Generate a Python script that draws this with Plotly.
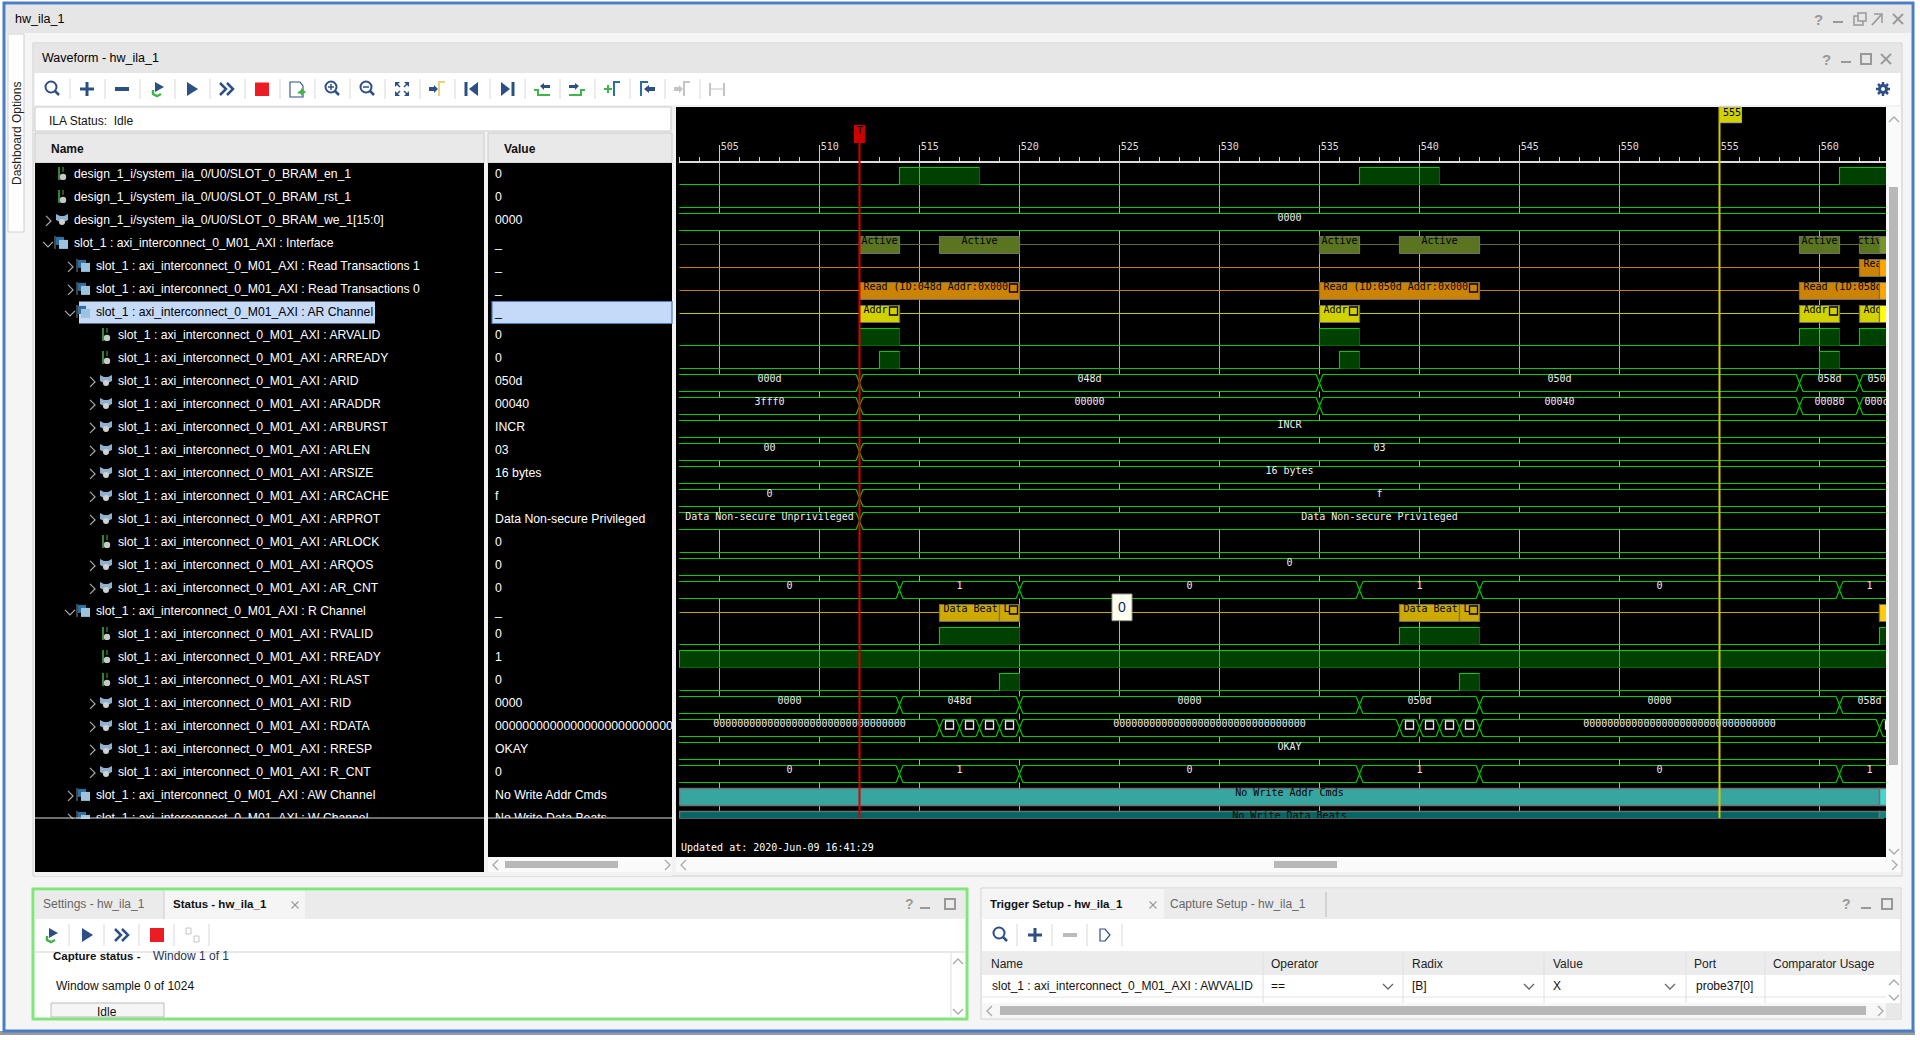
import plotly.graph_objects as go

W = 1920
H = 1040

# amostras visiveis no waveform
sample_start = 503
sample_end = 564
tick_vals = [505, 510, 515, 520, 525, 530, 535, 540, 545, 550, 555, 560]
tick_text = ['505', '510', '515', '520', '525', '530', '535', '540', '545', '550', '555', '560']
trigger_sample = 512
cursor_sample = 555

names = [
    'design_1_i/system_ila_0/U0/SLOT_0_BRAM_en_1',
    'design_1_i/system_ila_0/U0/SLOT_0_BRAM_rst_1',
    'design_1_i/system_ila_0/U0/SLOT_0_BRAM_we_1[15:0]',
    'slot_1 : axi_interconnect_0_M01_AXI : Interface',
    'slot_1 : axi_interconnect_0_M01_AXI : Read Transactions 1',
    'slot_1 : axi_interconnect_0_M01_AXI : Read Transactions 0',
    'slot_1 : axi_interconnect_0_M01_AXI : AR Channel',
    'slot_1 : axi_interconnect_0_M01_AXI : ARVALID',
    'slot_1 : axi_interconnect_0_M01_AXI : ARREADY',
    'slot_1 : axi_interconnect_0_M01_AXI : ARID',
    'slot_1 : axi_interconnect_0_M01_AXI : ARADDR',
    'slot_1 : axi_interconnect_0_M01_AXI : ARBURST',
    'slot_1 : axi_interconnect_0_M01_AXI : ARLEN',
    'slot_1 : axi_interconnect_0_M01_AXI : ARSIZE',
    'slot_1 : axi_interconnect_0_M01_AXI : ARCACHE',
    'slot_1 : axi_interconnect_0_M01_AXI : ARPROT',
    'slot_1 : axi_interconnect_0_M01_AXI : ARLOCK',
    'slot_1 : axi_interconnect_0_M01_AXI : ARQOS',
    'slot_1 : axi_interconnect_0_M01_AXI : AR_CNT',
    'slot_1 : axi_interconnect_0_M01_AXI : R Channel',
    'slot_1 : axi_interconnect_0_M01_AXI : RVALID',
    'slot_1 : axi_interconnect_0_M01_AXI : RREADY',
    'slot_1 : axi_interconnect_0_M01_AXI : RLAST',
    'slot_1 : axi_interconnect_0_M01_AXI : RID',
    'slot_1 : axi_interconnect_0_M01_AXI : RDATA',
    'slot_1 : axi_interconnect_0_M01_AXI : RRESP',
    'slot_1 : axi_interconnect_0_M01_AXI : R_CNT',
    'slot_1 : axi_interconnect_0_M01_AXI : AW Channel',
    'slot_1 : axi_interconnect_0_M01_AXI : W Channel',
]
depths = [0, 0, 0, 0, 1, 1, 1, 2, 2, 2, 2, 2, 2, 2, 2, 2, 2, 2, 2, 1, 2, 2, 2, 2, 2, 2, 2, 1, 1]
kinds = ['bit', 'bit', 'bus', 'group', 'group', 'group', 'group', 'bit', 'bit', 'bus', 'bus', 'bus', 'bus',
         'bus', 'bus', 'bus', 'bit', 'bus', 'bus', 'group', 'bit', 'bit', 'bit', 'bus', 'bus', 'bus', 'bus',
         'group', 'group']
expand = ['', '', 'r', 'd', 'r', 'r', 'd', '', '', 'r', 'r', 'r', 'r', 'r', 'r', 'r', '', 'r', 'r', 'd', '',
          '', '', 'r', 'r', 'r', 'r', 'r', 'r']
values = ['0', '0', '0000', '_', '_', '_', '_', '0', '0', '050d', '00040', 'INCR', '03', '16 bytes', 'f',
          'Data Non-secure Privileged', '0', '0', '0', '_', '0', '1', '0', '0000',
          '0000000000000000000000000000000000000', 'OKAY', '0', 'No Write Addr Cmds', 'No Write Data Beats']

# sinais digitais: linha -> intervalos em nivel alto
en_high = [(514, 518), (537, 541), (561, 566)]
arvalid_high = [(512, 514), (535, 537), (559, 561), (562, 566)]
arready_high = [(513, 514), (536, 537), (560, 561)]
rvalid_high = [(516, 520), (539, 543), (563, 566)]
rready_high = [(503, 566)]
rlast_high = [(519, 520), (542, 543)]
digital_rows = {0: en_high, 1: [], 7: arvalid_high, 8: arready_high, 16: [], 20: rvalid_high,
                21: rready_high, 22: rlast_high}

# barramentos: linha -> (inicio, fim, valor)
we_bus = [(503, 564, '0000')]
arid_bus = [(503, 512, '000d'), (512, 535, '048d'), (535, 559, '050d'), (559, 562, '058d'), (562, 564, '050d')]
araddr_bus = [(503, 512, '3fff0'), (512, 535, '00000'), (535, 559, '00040'), (559, 562, '00080'),
              (562, 564, '000c0')]
arburst_bus = [(503, 564, 'INCR')]
arlen_bus = [(503, 512, '00'), (512, 564, '03')]
arsize_bus = [(503, 564, '16 bytes')]
arcache_bus = [(503, 512, '0'), (512, 564, 'f')]
arprot_bus = [(503, 512, 'Data Non-secure Unprivileged'), (512, 564, 'Data Non-secure Privileged')]
arqos_bus = [(503, 564, '0')]
cnt_bus = [(503, 514, '0'), (514, 520, '1'), (520, 537, '0'), (537, 543, '1'), (543, 561, '0'), (561, 564, '1')]
rid_bus = [(503, 514, '0000'), (514, 520, '048d'), (520, 537, '0000'), (537, 543, '050d'), (543, 561, '0000'),
           (561, 564, '058d')]
zeros = '00000000000000000000000000000000'
rdata_bus = [(503, 516, zeros), (516, 517, '#'), (517, 518, '#'), (518, 519, '#'), (519, 520, '#'),
             (520, 539, zeros), (539, 540, '#'), (540, 541, '#'), (541, 542, '#'), (542, 543, '#'),
             (543, 563, zeros), (563, 564, '#')]
rresp_bus = [(503, 564, 'OKAY')]
bus_rows = {2: we_bus, 9: arid_bus, 10: araddr_bus, 11: arburst_bus, 12: arlen_bus, 13: arsize_bus,
            14: arcache_bus, 15: arprot_bus, 17: arqos_bus, 18: cnt_bus, 23: rid_bus, 24: rdata_bus,
            25: rresp_bus, 26: cnt_bus}

# transacoes: (inicio, fim, texto)
active_blocks = [(512, 514, 'Active'), (516, 520, 'Active'), (535, 537, 'Active'), (539, 543, 'Active'),
                 (559, 561, 'Active'), (562, 563, 'Active')]
read1_blocks = [(562, 563, 'Read')]
read0_blocks = [(512, 520, 'Read (ID:048d Addr:0x000'), (535, 543, 'Read (ID:050d Addr:0x000'),
                (559, 563, 'Read (ID:058d')]
addr_blocks = [(512, 514, 'Addr'), (535, 537, 'Addr'), (559, 561, 'Addr'), (562, 563, 'Addr')]
beat_blocks = [(516, 519, 'Data Beat'), (519, 520, 'L'), (539, 542, 'Data Beat'), (542, 543, 'L'), (563, 564, 'D')]
aw_blocks = [(503, 563, '')]
w_blocks = [(503, 563, '')]
aw_label = 'No Write Addr Cmds'
w_label = 'No Write Data Beats'

MONO = 'DejaVu Sans Mono'
UI = 'Liberation Sans'
GREEN = '#00d000'
HI = 17 / 23
TOP_PX = 163
BOTTOM_PX = 818

shapes = []
annots = []


def X(px):
    return px / W


def Y(py):
    return 1 - py / H


def rect(x0, y0, x1, y1, fill=None, line=None, w=1, layer='below'):
    shapes.append(dict(type='rect', xref='paper', yref='paper', x0=X(x0), y0=Y(y0), x1=X(x1), y1=Y(y1),
                       fillcolor=fill or 'rgba(0,0,0,0)', layer=layer,
                       line=dict(color=line or 'rgba(0,0,0,0)', width=w if line else 0)))


def seg(x0, y0, x1, y1, color, w=1):
    shapes.append(dict(type='line', xref='paper', yref='paper', x0=X(x0), y0=Y(y0), x1=X(x1), y1=Y(y1),
                       layer='below', line=dict(color=color, width=w)))


def poly(pts, fill=None, line=None, w=1, close=True):
    p = 'M ' + ' L '.join(f'{X(a):.5f} {Y(b):.5f}' for a, b in pts) + (' Z' if close else '')
    shapes.append(dict(type='path', xref='paper', yref='paper', path=p, layer='below',
                       fillcolor=fill or 'rgba(0,0,0,0)',
                       line=dict(color=line or 'rgba(0,0,0,0)', width=w if line else 0)))


def circ(cx, cy, r, fill=None, line=None, w=1):
    shapes.append(dict(type='circle', xref='paper', yref='paper', x0=X(cx - r), x1=X(cx + r), y0=Y(cy - r),
                       y1=Y(cy + r), layer='below', fillcolor=fill or 'rgba(0,0,0,0)',
                       line=dict(color=line or 'rgba(0,0,0,0)', width=w if line else 0)))


def label(x, y, text, size=12.5, color='#111111', anchor='left', font=UI, angle=0):
    annots.append(dict(xref='paper', yref='paper', x=X(x), y=Y(y), text=text, showarrow=False, xanchor=anchor,
                       yanchor='middle', textangle=angle, borderpad=0,
                       font=dict(family=font, size=size, color=color)))


# icones ------------------------------------------------------------------
BLUE = '#2c4f86'
LGREEN = '#3fb54a'
GREY = '#a8a8a8'


def ic_mag(x, y, sign=None, color=BLUE):
    circ(x - 1, y - 1, 5.5, line=color, w=2)
    seg(x + 3, y + 3, x + 7, y + 7, color, 2.5)
    if sign:
        seg(x - 4, y - 1, x + 2, y - 1, color, 1.5)
    if sign == '+':
        seg(x - 1, y - 4, x - 1, y + 2, color, 1.5)


def ic_plus(x, y, color=BLUE):
    seg(x - 7, y, x + 7, y, color, 3)
    seg(x, y - 7, x, y + 7, color, 3)


def ic_minus(x, y, color=BLUE):
    seg(x - 7, y, x + 7, y, color, 4)


def ic_refresh(x, y):
    poly([(x - 4, y + 1), (x - 4, y + 5), (x, y + 7), (x + 4, y + 5)], line=LGREEN, w=2.5, close=False)
    poly([(x - 2, y - 7), (x + 7, y - 2), (x - 2, y + 3)], fill=BLUE)


def ic_play(x, y):
    poly([(x - 5, y - 7), (x + 6, y), (x - 5, y + 7)], fill=BLUE)


def ic_double(x, y):
    poly([(x - 7, y - 6), (x - 1, y), (x - 7, y + 6)], line=BLUE, w=2.5, close=False)
    poly([(x, y - 6), (x + 6, y), (x, y + 6)], line=BLUE, w=2.5, close=False)


def ic_doc(x, y):
    poly([(x - 7, y - 7), (x + 3, y - 7), (x + 6, y - 3), (x + 6, y + 8), (x - 7, y + 8)], fill='white', line=BLUE, w=1.1)
    poly([(x, y + 4), (x + 4, y + 1), (x + 4, y - 1), (x + 9, y + 3), (x + 4, y + 7), (x + 4, y + 5)], fill=LGREEN)


def ic_fit(x, y):
    for sx in (-1, 1):
        for sy in (-1, 1):
            poly([(x + sx * 7, y + sy * 7), (x + sx * 2, y + sy * 7), (x + sx * 7, y + sy * 2)], fill=BLUE)
            seg(x + sx * 5, y + sy * 5, x + sx * 2, y + sy * 2, BLUE, 1.5)


def ic_cursor(x, y, col, arrow):
    poly([(x + 2, y + 7), (x + 2, y - 7), (x + 8, y - 7)], line=col, w=2, close=False)
    poly([(x - 8, y - 2), (x - 3, y - 2), (x - 3, y - 4), (x + 1, y), (x - 3, y + 4), (x - 3, y + 2), (x - 8, y + 2)], fill=arrow)


def ic_add_cursor(x, y):
    poly([(x + 2, y + 7), (x + 2, y - 7), (x + 8, y - 7)], line='#2f6f9f', w=2, close=False)
    seg(x - 8, y, x, y, LGREEN, 2)
    seg(x - 4, y - 4, x - 4, y + 4, LGREEN, 2)


def ic_back_cursor(x, y):
    poly([(x - 6, y + 7), (x - 6, y - 7), (x + 1, y - 7)], line='#2f6f9f', w=2, close=False)
    poly([(x + 8, y - 2), (x + 2, y - 2), (x + 2, y - 4), (x - 3, y), (x + 2, y + 4), (x + 2, y + 2), (x + 8, y + 2)], fill=BLUE)


def ic_first(x, y):
    seg(x - 6, y - 7, x - 6, y + 7, BLUE, 3)
    poly([(x + 6, y - 7), (x - 3, y), (x + 6, y + 7)], fill=BLUE)


def ic_last(x, y):
    seg(x + 6, y - 7, x + 6, y + 7, BLUE, 3)
    poly([(x - 6, y - 7), (x + 3, y), (x - 6, y + 7)], fill=BLUE)


def ic_edge(x, y, flip):
    if flip:
        poly([(x - 8, y + 1), (x - 4, y + 1), (x - 4, y + 6), (x + 8, y + 6)], line=LGREEN, w=2, close=False)
        poly([(x - 2, y - 3), (x + 2, y - 6), (x + 2, y - 4), (x + 8, y - 4), (x + 8, y - 1), (x + 2, y - 1), (x + 2, y + 1)], fill=BLUE)
    else:
        poly([(x - 8, y + 6), (x + 4, y + 6), (x + 4, y + 1), (x + 8, y + 1)], line=LGREEN, w=2, close=False)
        poly([(x + 2, y - 3), (x - 2, y - 6), (x - 2, y - 4), (x - 8, y - 4), (x - 8, y - 1), (x - 2, y - 1), (x - 2, y + 1)], fill=BLUE)


def ic_question(x, y, size=15):
    label(x, y, '<b>?</b>', size=size, color='#999999', anchor='center')


def ic_min(x, y):
    seg(x - 5, y + 5, x + 5, y + 5, '#999999', 2)


def ic_max(x, y):
    rect(x - 5, y - 5, x + 5, y + 5, line='#999999', w=2)


def ic_close(x, y, r=5):
    seg(x - r, y - r, x + r, y + r, '#999999', 1.8 if r > 4 else 1.1)
    seg(x - r, y + r, x + r, y - r, '#999999', 1.8 if r > 4 else 1.1)


def ic_chev(x, y, mode, col=GREY):
    if mode == 'r':
        poly([(x - 2, y - 5), (x + 3, y), (x - 2, y + 5)], line=col, w=1.3, close=False)
    elif mode == 'd':
        poly([(x - 5, y - 2), (x, y + 3), (x + 5, y - 2)], line=col, w=1.3, close=False)
    elif mode == 'u':
        poly([(x - 5, y + 2), (x, y - 3), (x + 5, y + 2)], line=col, w=1.3, close=False)
    elif mode == 'l':
        poly([(x + 2, y - 5), (x - 3, y), (x + 2, y + 5)], line=col, w=1.3, close=False)


def ic_node(x, y, kind):
    if kind == 'bit':
        seg(x - 3, y - 7, x - 3, y + 6, '#3fb54a', 1.5)
        seg(x + 1, y - 7, x + 1, y - 2, '#3fb54a', 1)
        circ(x + 1, y + 3, 3.2, fill='#c8c8c8')
    elif kind == 'bus':
        poly([(x - 6, y - 6), (x - 2, y - 4), (x + 2, y - 4), (x + 6, y - 6), (x + 6, y), (x + 2, y + 2), (x - 2, y + 2), (x - 6, y)], fill='#8fb0cf')
        circ(x, y + 2, 3, fill='#d0d0d0')
    else:
        rect(x - 6, y - 6, x + 2, y + 2, fill='#2f6f9f')
        rect(x - 3, y - 3, x + 6, y + 6, fill='#9cc4df')
        seg(x - 7, y - 7, x - 7, y + 6, '#888888', 1)


# janela ------------------------------------------------------------------
rect(0, 1031, W - 5, 1035, fill='#999999')
rect(4, 3, 1913, 1031, fill='#f5f5f5', line='#4a7cc8', w=3)
rect(6, 5, 1911, 33, fill='#e6e6e6')
label(14, 19, 'hw_ila_1', size=12.5, color='#000000')
ic_question(1818, 19)
ic_min(1838, 17)
rect(1854, 16, 1863, 25, line='#999999', w=1.5)
rect(1858, 13, 1866, 21, fill='#e6e6e6', line='#999999', w=1.5)
poly([(1872, 25), (1881, 15)], line='#999999', w=1.8, close=False)
poly([(1874, 14), (1882, 14), (1882, 23)], line='#999999', w=1.5, close=False)
ic_close(1898, 19)

# aba lateral
rect(8, 34, 24, 232, fill='white', line='#cfcfcf')
label(17, 134, 'Dashboard Options', size=12, color='#222222', anchor='center', angle=-90)

# painel waveform
rect(33, 43, 1902, 876, fill='#f2f2f2', line='#cfcfcf')
rect(34, 44, 1901, 73, fill='#e6e6e6')
label(41, 58, 'Waveform - hw_ila_1', size=12.5, color='#000000')
ic_question(1826, 59)
ic_min(1846, 57)
ic_max(1866, 59)
ic_close(1886, 59)
rect(35, 73, 1900, 105, fill='white')
for k in range(19):
    seg(70 + 35 * k, 79, 70 + 35 * k, 99, '#d8d8d8', 1)
ic_mag(52, 88)
ic_plus(87, 89)
ic_minus(122, 89)
ic_refresh(157, 89)
ic_play(192, 89)
ic_double(227, 89)
rect(255, 82.5, 269, 96, fill='#ec1c24')
ic_doc(297, 89)
ic_mag(332, 88, '+')
ic_mag(367, 88, '-')
ic_fit(402, 89)
ic_cursor(437, 89, '#e8d27c', BLUE)
ic_first(472, 89)
ic_last(507, 89)
ic_edge(542, 89, True)
ic_edge(577, 89, False)
ic_add_cursor(612, 89)
ic_back_cursor(647, 89)
ic_cursor(682, 89, '#c4c4c4', '#c4c4c4')
seg(710, 83, 710, 96, '#c4c4c4', 2)
seg(724, 83, 724, 96, '#c4c4c4', 2)
seg(711, 89, 723, 89, '#c4c4c4', 1)
# engrenagem
for a, b in [(0, -7), (0, 7), (-7, 0), (7, 0), (-5, -5), (5, 5), (-5, 5), (5, -5)]:
    seg(1883, 89, 1883 + a, 89 + b, BLUE, 2.5)
circ(1883, 89, 5, fill=BLUE)
circ(1883, 89, 2, fill='white')

# status
rect(35, 107, 671, 131, fill='white', line='#c8c8c8')
label(48, 120.5, 'ILA Status:  Idle', size=12)

# name / value
rect(35, 133, 484, 163, fill='#e9e9e9', line='#cccccc')
rect(488, 133, 672, 163, fill='#e9e9e9', line='#cccccc')
label(50, 149, '<b>Name</b>', size=12)
label(503, 149, '<b>Value</b>', size=12)
rect(35, 163, 484, 872, fill='black')
rect(488, 163, 672, 872, fill='black')
rect(79, 301.5, 375, 323.5, fill='#c5d9f9')
rect(492, 301.5, 672, 323.5, fill='#c5d9f9', line='#4a7cc8', w=1.2)

for r, nm in enumerate(names):
    yc = 174.9 + 23 * r
    tx = 74 + 22 * depths[r]
    ic_node(tx - 12, yc - 1, kinds[r])
    ic_chev(tx - 26, yc, expand[r])
rect(35, 819, 484, 872, fill='black')
rect(488, 819, 672, 872, fill='black')
seg(35, 818, 484, 818, '#dddddd', 1)
seg(488, 818, 672, 818, '#dddddd', 1)

# area do waveform
rect(676, 107, 1886, 857, fill='black')
seg(679, BOTTOM_PX, 1884, BOTTOM_PX, '#bbbbbb', 1)
label(680, 847.5, 'Updated at: 2020-Jun-09 16:41:29', size=10, color='white', font=MONO)

# barras de rolagem
rect(1886, 107, 1901, 872, fill='#fafafa')
rect(1889, 187, 1898, 765, fill='#b8b8b8')
ic_chev(1894, 120, 'u')
ic_chev(1894, 851, 'd')
rect(488, 857, 672, 872, fill='#fafafa')
rect(35, 872, 672, 876, fill='#f2f2f2')
rect(505, 861, 618, 868, fill='#b8b8b8')
ic_chev(496, 865, 'l')
ic_chev(667, 865, 'r')
rect(676, 857, 1901, 872, fill='#fafafa')
rect(1274, 861, 1337, 868, fill='#b8b8b8')
ic_chev(684, 865, 'l')
ic_chev(1894, 865, 'r')

# painel inferior esquerdo
rect(33, 889, 967, 1019, fill='white', line='#80e67c', w=3)
rect(35, 891, 965, 919, fill='#ebebeb')
rect(164, 891, 305, 919, fill='#f5f5f5')
seg(164, 891, 164, 919, '#cccccc', 1)
label(42, 904, 'Settings - hw_ila_1', size=12, color='#666666')
label(172, 904, '<b>Status - hw_ila_1</b>', size=11.5)
ic_close(295, 905, 3.5)
ic_question(909, 904, 14)
ic_min(925, 903)
ic_max(950, 904)
for k in range(5):
    seg(69 + 35 * k, 924, 69 + 35 * k, 946, '#d8d8d8', 1)
ic_refresh(51, 935)
ic_play(87, 935)
ic_double(122, 935)
rect(150, 928, 164, 942, fill='#ec1c24')
rect(186, 928, 191, 934, line='#c4c4c4')
rect(194, 936, 199, 942, line='#c4c4c4')
rect(35, 951, 965, 953, fill='#e8e8e8')
label(52, 956, '<b>Capture status -</b>', size=11.5)
label(152, 956, 'Window 1 of 1', size=12, color='#223355')
label(55, 986, 'Window sample 0 of 1024', size=12)
rect(51, 1003, 164, 1017, fill='#f5f5f5', line='#bbbbbb')
label(107, 1012, 'Idle', size=12, anchor='center')
seg(951, 953, 951, 1017, '#dddddd', 1)
ic_chev(958, 962, 'u')
ic_chev(958, 1011, 'd')

# painel inferior direito
rect(981, 888, 1901, 1019, fill='white', line='#cfcfcf')
rect(982, 889, 1900, 919, fill='#ebebeb')
rect(982, 889, 1164, 919, fill='#f5f5f5')
seg(1326, 892, 1326, 917, '#bbbbbb', 1)
label(989, 904, '<b>Trigger Setup - hw_ila_1</b>', size=11.5)
ic_close(1153, 905, 3.5)
label(1169, 904, 'Capture Setup - hw_ila_1', size=12, color='#666666')
ic_question(1846, 904, 14)
ic_min(1866, 903)
ic_max(1887, 904)
for x in [1017, 1052, 1087, 1122]:
    seg(x, 924, x, 946, '#d8d8d8', 1)
ic_mag(1000, 934)
ic_plus(1035, 935)
ic_minus(1070, 935, '#bbbbbb')
poly([(1100, 929), (1105, 929), (1110, 935), (1105, 941), (1100, 941)], line=BLUE, w=1.2)
rect(982, 951, 1900, 975, fill='#ececec')
rect(982, 975, 1886, 997, fill='white')
seg(982, 997, 1886, 997, '#e4e4e4', 1)
rect(982, 998, 1886, 1003, fill='white')
for x in [1263, 1403, 1544, 1686, 1765]:
    seg(x, 953, x, 1003, '#e0e0e0', 1)
for x, t in [(990, 'Name'), (1270, 'Operator'), (1411, 'Radix'), (1552, 'Value'), (1693, 'Port'),
             (1772, 'Comparator Usage')]:
    label(x, 964, t, size=12, color='#222222')
for x, t in [(991, 'slot_1 : axi_interconnect_0_M01_AXI : AWVALID'), (1270, '=='), (1411, '[B]'), (1552, 'X'),
             (1695, 'probe37[0]')]:
    label(x, 986, t, size=12, color='#111111')
for x in [1388, 1529, 1670]:
    ic_chev(x, 986, 'd', '#666666')
ic_chev(1894, 983, 'u')
ic_chev(1894, 997, 'd')
rect(982, 1003, 1900, 1018, fill='#e8e8e8')
rect(982, 1003, 1886, 1018, fill='#f7f7f7')
rect(1000, 1006, 1866, 1015, fill='#b8b8b8')
ic_chev(990, 1011, 'l')
ic_chev(1880, 1011, 'r')

# figura ------------------------------------------------------------------
fig = go.Figure()


def add_line(xs, ys, color, width=1.1, fill=None):
    fig.add_trace(go.Scatter(x=xs, y=ys, mode='lines', line=dict(color=color, width=width), fill='toself' if fill else None,
                             fillcolor=fill, hoverinfo='skip', showlegend=False))


def add_text(xs, ys, texts, color, pos='middle center', family=MONO, size=10):
    fig.add_trace(go.Scatter(x=xs, y=ys, mode='text', text=texts, textposition=pos, hoverinfo='skip', showlegend=False,
                             textfont=dict(family=family, size=size, color=color)))


def add_squares(xs, ys, color):
    fig.add_trace(go.Scatter(x=xs, y=ys, mode='markers', hoverinfo='skip', showlegend=False,
                             marker=dict(symbol='square-open', size=8, color=color, line=dict(width=1.3, color=color))))


# digitais
for r, highs in digital_rows.items():
    if r != 21:
        add_line([sample_start, 566], [r, r], GREEN)
    for s, e in highs:
        add_line([s, s, e, e, s], [r, r - HI, r - HI, r, r], '#006400', 1, 'rgba(0,140,0,0.46)')
        add_line([s, s, e], [r, r - HI, r - HI], GREEN)

# barramentos: primeiro o fundo preto de cada segmento, depois os contornos
d = 0.17
for r, segs in bus_rows.items():
    top = r - HI
    tx, ty, tt = [], [], []
    sq_x, sq_y = [], []
    fx = [segs[0][0] - 1, segs[-1][1] + 1]
    add_line([fx[0], fx[1], fx[1], fx[0], fx[0]], [top, top, r, r, top], 'rgba(0,0,0,0)', 0, 'black')
    lx, ly = [], []
    for s, e, txt in segs:
        # contorno do segmento: topo, cruzamento e base
        if s > sample_start:
            lx += [s - d, s + d, None, s - d, s + d, None]
            ly += [r, top, None, top, r, None]
        lx += [s + d if s > sample_start else s - 1, e - d if e < sample_end else e + 1, None,
               s + d if s > sample_start else s - 1, e - d if e < sample_end else e + 1, None]
        ly += [top, top, None, r, r, None]
        if txt == '#':
            sq_x.append((s + e) / 2)
            sq_y.append(r - 11.5 / 23)
        else:
            tx.append((s + e) / 2)
            ty.append(r - 12 / 23)
            tt.append(txt)
    add_line(lx, ly, GREEN)
    add_text(tx, ty, tt, '#eeeeee')
    if sq_x:
        add_squares(sq_x, sq_y, '#eeeeee')


def add_blocks(r, blocks, line_color, fill, bright, center=False, square_min=None):
    add_line([sample_start, 566], [r - 9 / 23, r - 9 / 23], line_color)
    tx, ty, tt = [], [], []
    sq_x, sq_y = [], []
    for s, e, txt in blocks:
        add_line([s, e, e, s, s], [r, r, r - HI, r - HI, r], '#6e6e6e', 1.2, fill)
        if txt:
            tx.append((s + e) / 2 if center else s + 0.2)
            ty.append(r - 12 / 23)
            tt.append(txt)
        if square_min and e - s >= square_min and e <= 561 and txt not in ('Data Beat', 'D'):
            sq_x.append(e - 0.3)
            sq_y.append(r - 11.5 / 23)
    if tt:
        add_text(tx, ty, tt, '#000000', 'middle center' if center else 'middle right')
    if sq_x:
        add_squares(sq_x, sq_y, '#000000')
    if bright:
        add_line([563, 566, 566, 563, 563], [r, r, r - HI, r - HI, r], '#6e6e6e', 1.2, bright)


add_blocks(3, active_blocks, '#5a6e1e', '#5a7420', '#78962a', center=True)
add_blocks(4, read1_blocks, '#c88400', '#cc8400', '#ffa500')
add_blocks(5, read0_blocks, '#c88400', '#cc8400', '#ffa500', square_min=2)
add_blocks(6, addr_blocks, '#c8c800', '#d2d200', '#ffff00', square_min=2)
add_blocks(19, beat_blocks, '#c8a800', '#ccaa00', '#ffcc00', square_min=1)

# canais de escrita
fig.add_trace(go.Scatter(x=[s for b in aw_blocks for s in (b[0], b[1], b[1], b[0], b[0])],
                         y=[27, 27, 27 - HI, 27 - HI, 27], mode='lines', fill='toself', fillcolor='#38a6a0',
                         line=dict(color='#707070', width=1.5), hoverinfo='skip', showlegend=False))
add_line([563, 566, 566, 563, 563], [27, 27, 27 - HI, 27 - HI, 27], '#707070', 1.5, '#42d8cf')
add_text([533.5], [27 - 12 / 23], [aw_label], '#000000')
fig.add_trace(go.Scatter(x=[s for b in w_blocks for s in (b[0], b[1], b[1], b[0], b[0])],
                         y=[28, 28, 28 - HI, 28 - HI, 28], mode='lines', fill='toself', fillcolor='#006666',
                         line=dict(color='#707070', width=1.5), hoverinfo='skip', showlegend=False))
add_line([563, 566, 566, 563, 563], [28, 28, 28 - HI, 28 - HI, 28], '#707070', 1.5, '#008888')
add_text([533.5], [28 - 12 / 23], [w_label], '#000000')

# marcas maiores da regua
for v in tick_vals:
    shapes.append(dict(type='line', xref='x', yref='paper', x0=v, x1=v, y0=Y(146.5), y1=Y(TOP_PX), layer='above',
                       line=dict(color='#cccccc', width=1)))

# cursores
for sample, col, y_top, lw in [(trigger_sample, '#d80000', 125, 2), (cursor_sample, '#d2c800', 107, 2)]:
    shapes.append(dict(type='line', xref='x', yref='paper', x0=sample, x1=sample, y0=Y(y_top), y1=Y(BOTTOM_PX),
                       layer='above', line=dict(color=col, width=lw)))
shapes.append(dict(type='rect', xref='x', yref='paper', xsizemode='pixel', xanchor=trigger_sample, x0=-5.5, x1=5.5,
                   y0=Y(125), y1=Y(143), layer='above', fillcolor='#cc0000', line=dict(width=0)))
shapes.append(dict(type='rect', xref='x', yref='paper', xsizemode='pixel', xanchor=cursor_sample, x0=0, x1=22,
                   y0=Y(107), y1=Y(122.7), layer='above', fillcolor='#d2d200', line=dict(color='#aaaaaa', width=1)))
annots.append(dict(xref='x', yref='paper', x=trigger_sample, y=Y(130), text='T', showarrow=False, xanchor='center',
                   yanchor='middle', font=dict(family=MONO, size=10, color='black')))
annots.append(dict(xref='x', yref='paper', x=cursor_sample, y=Y(112), text=str(cursor_sample), showarrow=False,
                   xanchor='left', xshift=1, yanchor='middle', font=dict(family=MONO, size=10, color='black')))

# tooltip de valor
rect(1112, 594, 1132, 620.7, fill='#fffff0', line='#999999', w=1, layer='above')
label(1122, 607, '0', size=14, color='#112266', anchor='center')

# colunas Name e Value como texto clipado
name_colors = ['black' if r == 6 else '#ffffff' for r in range(len(names))]
fig.add_trace(go.Scatter(x=depths, y=list(range(len(names))), xaxis='x2', yaxis='y2', mode='text', text=names,
                         textposition='middle right', hoverinfo='skip', showlegend=False,
                         textfont=dict(family=UI, size=12.2, color=name_colors)))
value_colors = ['black' if r == 6 else '#ffffff' for r in range(len(values))]
fig.add_trace(go.Scatter(x=[0] * len(values), y=list(range(len(values))), xaxis='x3', yaxis='y3', mode='text',
                         text=values, textposition='middle right', hoverinfo='skip', showlegend=False,
                         textfont=dict(family=UI, size=12.3, color=value_colors)))

y_row = lambda px: (px - 184.5) / 23
y_name = lambda px: (px - 174.9) / 23
x_left = 502.975
hidden = dict(visible=False, fixedrange=True)
fig.update_layout(
    width=W, height=H, margin=dict(l=0, r=0, t=0, b=0), autosize=False,
    paper_bgcolor='white', plot_bgcolor='rgba(0,0,0,0)', showlegend=False, shapes=shapes, annotations=annots,
    xaxis=dict(domain=[X(679), X(1886)], range=[x_left, x_left + 1207 / 20], side='top', anchor='y',
               tickmode='array', tickvals=tick_vals, ticktext=tick_text, ticks='outside', ticklen=16, tickwidth=1,
               tickcolor='#cccccc', showline=True, linecolor='#dddddd', linewidth=1.5, showgrid=True,
               gridcolor='#b0b0b0', gridwidth=1, zeroline=False, ticklabelposition='outside right',
               ticklabelstandoff=7, tickfont=dict(family=MONO, size=10, color='#dddddd'), fixedrange=True,
               minor=dict(tick0=503, dtick=1, ticks='outside', ticklen=4, tickwidth=1, tickcolor='#cccccc', showgrid=False)),
    yaxis=dict(domain=[Y(BOTTOM_PX), Y(TOP_PX)], range=[y_row(BOTTOM_PX), y_row(TOP_PX)], anchor='x', **hidden),
    xaxis2=dict(domain=[X(35), X(484)], range=[(35 - 74) / 22, (484 - 74) / 22], anchor='y2', **hidden),
    yaxis2=dict(domain=[Y(818), Y(163)], range=[y_name(818), y_name(163)], anchor='x2', **hidden),
    xaxis3=dict(domain=[X(488), X(672)], range=[-7, 177], anchor='y3', **hidden),
    yaxis3=dict(domain=[Y(818), Y(163)], range=[y_name(818), y_name(163)], anchor='x3', **hidden),
)

fig.write_html("out.html", config=dict(displayModeBar=False),
               post_script="document.body.style.margin='0';document.body.style.overflow='hidden';")
